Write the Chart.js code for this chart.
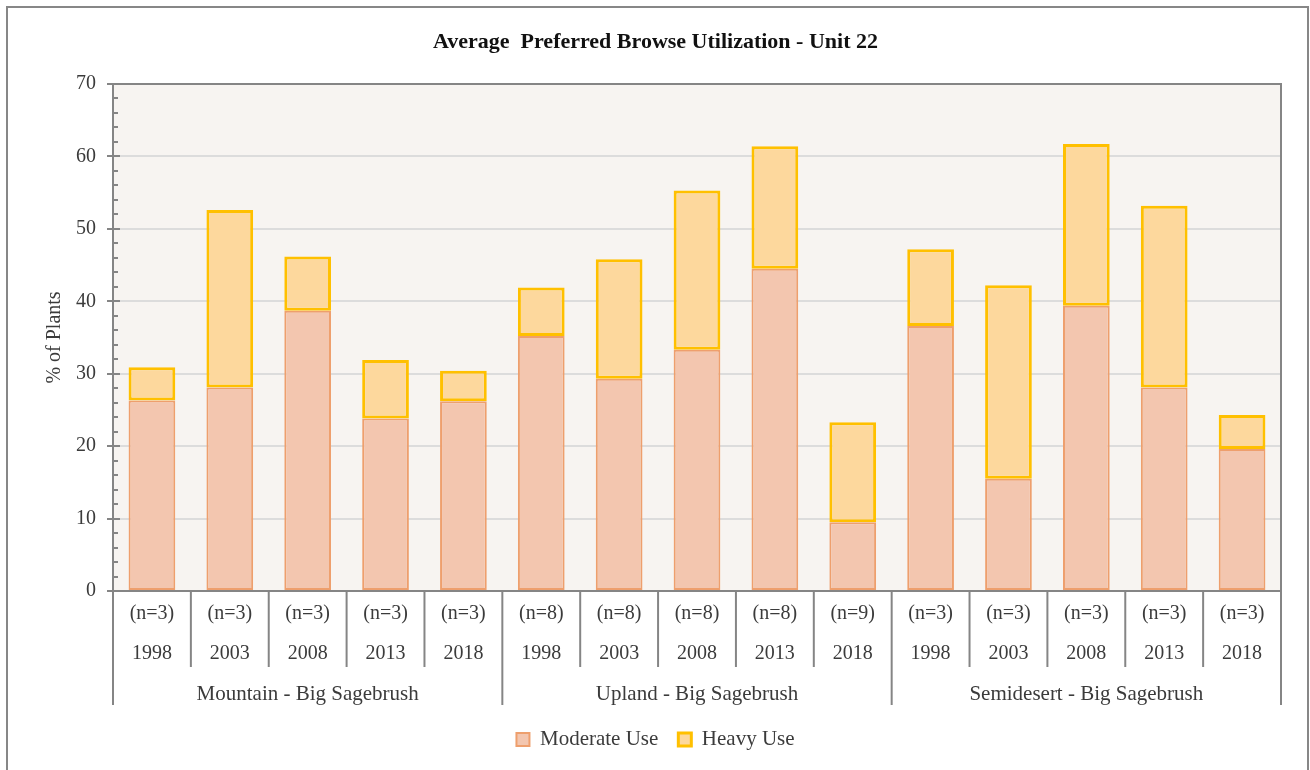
<!DOCTYPE html>
<html>
<head>
<meta charset="utf-8">
<title>Average Preferred Browse Utilization - Unit 22</title>
<script src="https://cdn.jsdelivr.net/npm/chart.js@4.4.1/dist/chart.umd.min.js"></script>
<style>
  html, body { margin: 0; padding: 0; background: #fff; }
  #wrap { position: relative; width: 1310px; height: 770px; overflow: hidden; }
  #frame { position: absolute; left: 6px; top: 6px; width: 1303px; height: 800px; border: 2px solid #878787; box-sizing: border-box; }
  #browseChart { position: absolute; left: 0; top: 0; }
</style>
</head>
<body>
<div id="wrap">
  <canvas id="browseChart" width="1310" height="770"></canvas>
  <div id="frame"></div>
</div>
<script>
const years = ['1998', '2003', '2008', '2013', '2018', '1998', '2003', '2008', '2013', '2018', '1998', '2003', '2008', '2013', '2018'];
const sampleSizes = [3, 3, 3, 3, 3, 8, 8, 8, 8, 9, 3, 3, 3, 3, 3];
const groups = ['Mountain - Big Sagebrush', 'Upland - Big Sagebrush', 'Semidesert - Big Sagebrush'];
const groupSize = 5;
const moderateUse = [26.3, 28.1, 38.7, 23.8, 26.2, 35.2, 29.3, 33.3, 44.5, 9.5, 36.6, 15.5, 39.4, 28.1, 19.6];
const heavyUse = [4.6, 24.5, 7.5, 8.1, 4.2, 6.7, 16.5, 22.0, 16.9, 13.8, 10.6, 26.7, 22.3, 25.1, 4.7];

const SERIF = "'Liberation Serif', 'Times New Roman', serif";
const TEXT = '#3b3b3b';
const AXIS = '#858585';

// plot background, outline, minor y ticks and the grouped category table under the bars
const plotDecor = {
  id: 'plotDecor',
  beforeDraw(chart) {
    const { ctx, chartArea: a } = chart;
    ctx.save();
    ctx.fillStyle = '#f7f4f1';
    ctx.fillRect(a.left, a.top, a.right - a.left, a.bottom - a.top);
    ctx.restore();
  },
  afterDraw(chart) {
    const { ctx, chartArea: a, scales } = chart;
    const x = scales.x, y = scales.y;
    ctx.save();
    ctx.strokeStyle = AXIS;
    ctx.lineWidth = 2;

    // top and right edges of the plot
    ctx.beginPath();
    ctx.moveTo(a.left, a.top);
    ctx.lineTo(a.right, a.top);
    ctx.lineTo(a.right, a.bottom);
    ctx.stroke();

    // inner tick marks on the value axis
    for (let v = 0; v <= 70; v += 2) {
      const py = Math.round(y.getPixelForValue(v));
      const len = v % 10 === 0 ? 7 : 5;
      ctx.beginPath();
      ctx.moveTo(a.left, py);
      ctx.lineTo(a.left + len, py);
      ctx.stroke();
    }

    // separators between categories and groups
    const step = x.getPixelForValue(1) - x.getPixelForValue(0);
    for (let i = 0; i <= years.length; i++) {
      const px = i === 0 ? a.left : i === years.length ? a.right : x.getPixelForValue(i) - step / 2;
      const end = i % groupSize === 0 ? a.bottom + 114 : a.bottom + 76;
      ctx.beginPath();
      ctx.moveTo(px, a.bottom);
      ctx.lineTo(px, end);
      ctx.stroke();
    }

    // group names
    ctx.fillStyle = TEXT;
    ctx.font = '21px ' + SERIF;
    ctx.textAlign = 'center';
    ctx.textBaseline = 'middle';
    groups.forEach((g, gi) => {
      const first = x.getPixelForValue(gi * groupSize);
      const last = x.getPixelForValue(gi * groupSize + groupSize - 1);
      ctx.fillText(g, (first + last) / 2, a.bottom + 103);
    });
    ctx.restore();
  }
};

const labels = years.map((yr, i) => ['(n=' + sampleSizes[i] + ')', yr]);

new Chart(document.getElementById('browseChart').getContext('2d'), {
  type: 'bar',
  data: {
    labels,
    datasets: [
      {
        label: 'Moderate Use',
        data: moderateUse,
        backgroundColor: '#f3c6af',
        borderColor: '#ee9f6d',
        borderWidth: 2,
        borderSkipped: false
      },
      {
        label: 'Heavy Use',
        data: heavyUse,
        backgroundColor: '#fdd89d',
        borderColor: '#ffc000',
        borderWidth: 3,
        borderSkipped: false
      }
    ]
  },
  options: {
    responsive: false,
    animation: false,
    maintainAspectRatio: false,
    datasets: { bar: { categoryPercentage: 1, barPercentage: 0.6 } },
    layout: { padding: { left: 30, right: 29, top: 0, bottom: 10 } },
    plugins: {
      title: {
        display: true,
        text: 'Average  Preferred Browse Utilization - Unit 22',
        color: '#111',
        font: { family: SERIF, size: 22, weight: 'bold' },
        padding: { top: 29, bottom: 28.6 }
      },
      legend: {
        position: 'bottom',
        labels: {
          color: TEXT,
          font: { family: SERIF, size: 21 },
          boxWidth: 13,
          boxHeight: 13,
          padding: 20
        }
      },
      tooltip: { enabled: false }
    },
    scales: {
      x: {
        stacked: true,
        grid: { display: false },
        border: { display: true, color: AXIS, width: 2 },
        ticks: {
          color: TEXT,
          font: { family: SERIF, size: 20, lineHeight: 2 },
          padding: -5,
          maxRotation: 0,
          autoSkip: false
        },
        afterFit(scale) { scale.height = 118; }
      },
      y: {
        stacked: true,
        min: 0,
        max: 70,
        ticks: {
          stepSize: 10,
          color: TEXT,
          font: { family: SERIF, size: 20 },
          padding: 11
        },
        grid: {
          color: ctx => (ctx.tick && (ctx.tick.value === 0 || ctx.tick.value === 70)) ? 'rgba(0,0,0,0)' : '#dcdcdc',
          lineWidth: 2,
          tickColor: AXIS,
          tickWidth: 2,
          tickLength: 6
        },
        border: { display: true, color: AXIS, width: 2 },
        title: {
          display: true,
          text: '% of Plants',
          color: TEXT,
          font: { family: SERIF, size: 20 },
          padding: { top: 13, bottom: 0 }
        },
        afterFit(scale) { scale.width = 83; }
      }
    }
  },
  plugins: [plotDecor]
});
</script>
</body>
</html>
